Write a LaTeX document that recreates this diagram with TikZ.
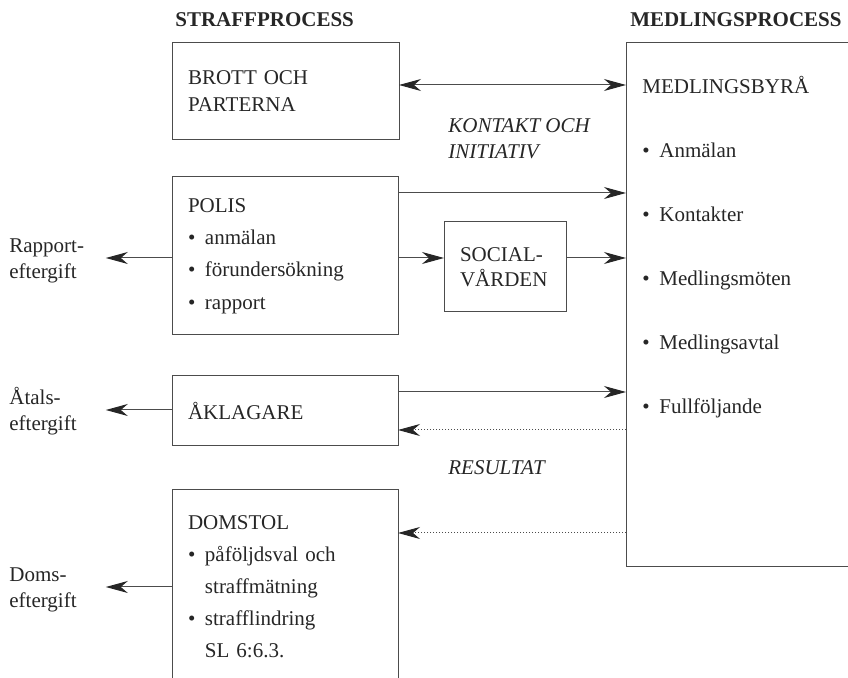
\documentclass[tikz,border=0pt]{standalone}
\usepackage{fontspec}
\setmainfont{Liberation Serif}
\usetikzlibrary{arrows.meta}

\newcommand{\pkt}{\makebox[8.5pt][l]{\textbullet}}

\tikzset{
  box/.style={draw=black!70, line width=0.5pt, inner xsep=8pt, inner ysep=0pt,
    outer sep=0pt, align=left, anchor=north west, text=black!85},
  lab/.style={inner sep=0pt, align=left, anchor=base west, text width=48pt,
    text=black!85, font=\fontsize{10.5}{12.75}\selectfont},
  rubrik/.style={inner sep=0pt, anchor=base west, text=black!85,
    font=\fontsize{10.5}{12}\selectfont\bfseries},
  kursiv/.style={inner sep=0pt, align=left, anchor=base west, text=black!85,
    font=\fontsize{10.5}{13}\selectfont\itshape},
  pil/.style={draw=black!70, line width=0.5pt},
  >={Stealth[length=11pt,width=6pt,inset=3.5pt,color=black!85]}
}

\begin{document}
\begin{tikzpicture}[x=0.5pt,y=-0.5pt]
\useasboundingbox (0,0) rectangle (848,678);
% headings
\node[rubrik] (straff) at (175,27) {STRAFFPROCESS};
\node[rubrik] (medlproc) at (630,27) {MEDLINGSPROCESS};
% left column
\node[box, text width=97.5pt, minimum height=48.5pt, font=\fontsize{10.5}{13.5}\selectfont]
  (brott) at (172,43) {BROTT OCH\\PARTERNA};
\node[box, text width=97pt, minimum height=79pt, font=\fontsize{10.5}{16.2}\selectfont]
  (polis) at (172,177) {POLIS\\\pkt anmälan\\\pkt förundersökning\\\pkt rapport};
\node[box, text width=45pt, minimum height=45pt, font=\fontsize{10.5}{12.5}\selectfont]
  (social) at (444,222) {SOCIAL-\\VÅRDEN};
\node[box, text width=97pt, minimum height=35pt, font=\fontsize{10.5}{12}\selectfont]
  (aklagare) at (172,376) {ÅKLAGARE};
\node[box, text width=97pt, minimum height=96.5pt, font=\fontsize{10.5}{16}\selectfont]
  (domstol) at (172,490) {DOMSTOL\\\pkt påföljdsval och\\\hspace*{8.5pt}straffmätning\\\pkt strafflindring\\\hspace*{8.5pt}SL 6:6.3.};
% right column
\node[box, minimum width=140pt, minimum height=262pt] (medling) at (626,43) {};
\node[inner sep=0pt, align=left, anchor=base west, text=black!85,
  font=\fontsize{10.5}{16}\selectfont] (medlista) at (642,414)
  {MEDLINGSBYRÅ\\[16pt]\pkt Anmälan\\[16pt]\pkt Kontakter\\[16pt]\pkt Medlingsmöten\\[16pt]\pkt Medlingsavtal\\[16pt]\pkt Fullföljande};
% outcome labels
\node[lab] (rapport) at (9,253) {Rapport-\\eftergift};
\node[lab] (atal) at (9,405) {Åtals-\\eftergift};
\node[lab] (doms) at (9,582) {Doms-\\eftergift};
\node[kursiv] (kontakt) at (448,159) {KONTAKT OCH\\INITIATIV};
\node[kursiv] (resultat) at (448,475) {RESULTAT};
% rows of the arrows
\coordinate (r1) at (0,85);
\coordinate (r2) at (0,193);
\coordinate (r3) at (0,258);
\coordinate (r4) at (0,392);
\coordinate (r5) at (0,430);
\coordinate (r6) at (0,410);
\coordinate (r7) at (0,533);
\coordinate (r8) at (0,587);
\draw[pil,<->] (brott.east |- r1) -- (medling.west |- r1);
\draw[pil,->] (polis.east |- r2) -- (medling.west |- r2);
\draw[pil,->] (polis.east |- r3) -- (social.west |- r3);
\draw[pil,->] (social.east |- r3) -- (medling.west |- r3);
\draw[pil,->] (polis.west |- r3) -- (rapport.east |- r3);
\draw[pil,->] (aklagare.east |- r4) -- (medling.west |- r4);
\draw[pil,->,densely dotted] (medling.west |- r5) -- (aklagare.east |- r5);
\draw[pil,->] (aklagare.west |- r6) -- (atal.east |- r6);
\draw[pil,->,densely dotted] (medling.west |- r7) -- (domstol.east |- r7);
\draw[pil,->] (domstol.west |- r8) -- (doms.east |- r8);
\end{tikzpicture}
\end{document}
